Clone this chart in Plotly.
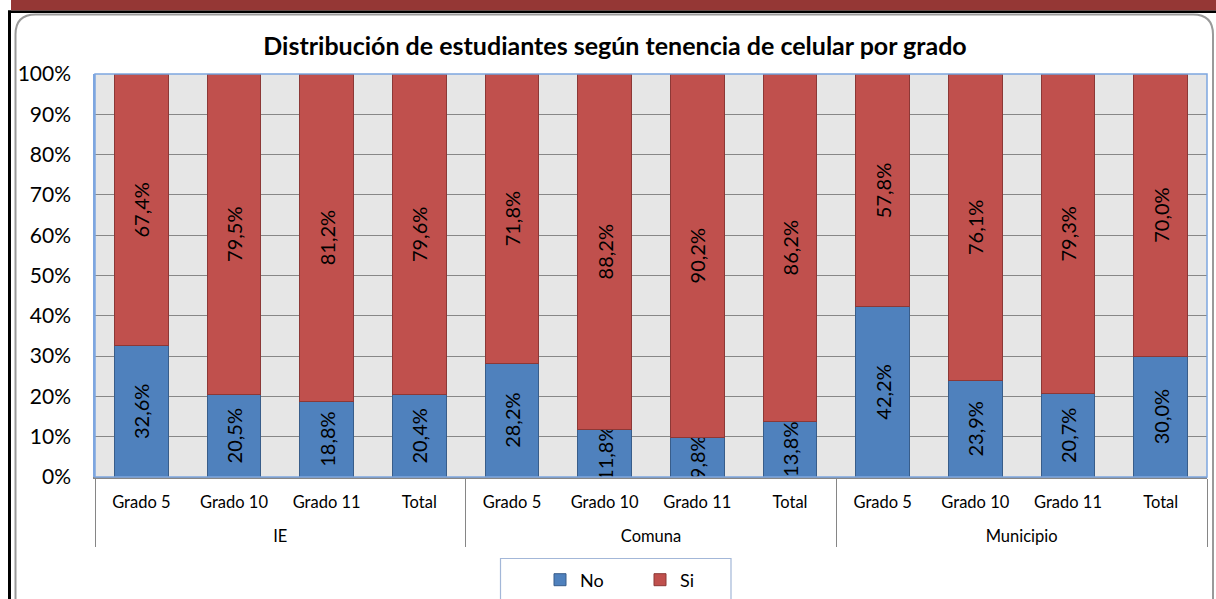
import plotly.graph_objects as go

# Data: share of students with / without a mobile phone, by grade and area
groups = ["IE", "Comuna", "Municipio"]
grades = ["Grado 5", "Grado 10", "Grado 11", "Total"]
no_vals = [32.6, 20.5, 18.8, 20.4,
           28.2, 11.8, 9.8, 13.8,
           42.2, 23.9, 20.7, 30.0]
si_vals = [67.4, 79.5, 81.2, 79.6,
           71.8, 88.2, 90.2, 86.2,
           57.8, 76.1, 79.3, 70.0]
y_ticks = [0, 10, 20, 30, 40, 50, 60, 70, 80, 90, 100]

# group labels carry a leading line break so they sit lower under the grades
x_group = ["<br>" + g for g in groups for _ in grades]
x_grade = [c for _ in groups for c in grades]

def pct_label(v):
    return f"{v:.1f}".replace(".", ",") + "%"

W, H = 1216, 599
ML, MR, MT, MB = 95, 9, 74, 122
PW, PH = W - ML - MR, H - MT - MB

def px(x):
    return (x - ML) / PW

def py(y):
    return (H - MB - y) / PH

FONT = "Lato"

fig = go.Figure()
fig.add_trace(go.Bar(
    x=[x_group, x_grade], y=no_vals, name="No",
    marker=dict(color="#4F81BD", line=dict(color="#385D8A", width=1)),
    text=[pct_label(v) for v in no_vals],
    textposition="inside", insidetextanchor="middle", textangle=-90,
    textfont=dict(family=FONT, size=20, color="black"),
    hoverinfo="skip",
))
fig.add_trace(go.Bar(
    x=[x_group, x_grade], y=si_vals, name="Si",
    marker=dict(color="#C0504D", line=dict(color="#8C3836", width=1)),
    text=[pct_label(v) for v in si_vals],
    textposition="inside", insidetextanchor="middle", textangle=-90,
    textfont=dict(family=FONT, size=20, color="black"),
    hoverinfo="skip",
))

shapes = []
# top band and dark borders of the page
shapes.append(dict(type="rect", xref="paper", yref="paper",
                   x0=px(11), x1=px(1220), y0=py(-5), y1=py(10.5),
                   fillcolor="#953735", line=dict(width=0), layer="above"))
shapes.append(dict(type="rect", xref="paper", yref="paper",
                   x0=px(8), x1=px(1220), y0=py(10.5), y1=py(13),
                   fillcolor="black", line=dict(width=0), layer="above"))
shapes.append(dict(type="rect", xref="paper", yref="paper",
                   x0=px(8), x1=px(11), y0=py(10.5), y1=py(620),
                   fillcolor="black", line=dict(width=0), layer="above"))
# rounded chart frame
r = 20
L, T, R, B = 15.5, 14.5, 1213, 640
path = (f"M {px(L)},{py(B)} L {px(L)},{py(T + r)} "
        f"Q {px(L)},{py(T)} {px(L + r)},{py(T)} "
        f"L {px(R - r)},{py(T)} Q {px(R)},{py(T)} {px(R)},{py(T + r)} "
        f"L {px(R)},{py(B)}")
shapes.append(dict(type="path", xref="paper", yref="paper", path=path,
                   line=dict(color="#9A9A9A", width=2), layer="above"))
# plot area border
shapes.append(dict(type="rect", xref="paper", yref="paper",
                   x0=0, x1=1, y0=0, y1=1,
                   line=dict(color="#7EA6E0", width=1.5), layer="above"))
# legend box
shapes.append(dict(type="rect", xref="paper", yref="paper",
                   x0=px(500.5), x1=px(731), y0=py(640), y1=py(558.5),
                   line=dict(color="#A3B7D8", width=1.2), fillcolor="white",
                   layer="below"))

fig.update_layout(
    width=W, height=H,
    margin=dict(l=ML, r=MR, t=MT, b=MB, autoexpand=False),
    paper_bgcolor="white",
    plot_bgcolor="#E6E6E6",
    barmode="stack",
    bargap=0.42,
    font=dict(family=FONT, color="black"),
    uniformtext=dict(minsize=20, mode="show"),
    title=dict(text="<b>Distribución de estudiantes según tenencia de celular por grado</b>",
               xref="container", x=615 / W, xanchor="center",
               y=1 - 46 / H, yanchor="middle",
               font=dict(family=FONT, size=25, color="black")),
    showlegend=True,
    legend=dict(orientation="h", x=px(540), xanchor="left",
                y=py(580), yanchor="middle",
                font=dict(family=FONT, size=18, color="black"),
                bgcolor="rgba(0,0,0,0)", borderwidth=0,
                entrywidth=55, entrywidthmode="pixels",
                traceorder="normal"),
    shapes=shapes,
)
fig.update_yaxes(
    range=[0, 100], tickvals=y_ticks,
    ticktext=[f"{v}%" for v in y_ticks],
    tickfont=dict(family=FONT, size=21, color="black"),
    showgrid=True, gridcolor="#878787", gridwidth=1,
    showline=True, linecolor="#7EA6E0", linewidth=1.5,
    zeroline=False, ticks="", ticklabelstandoff=18,
    automargin=False,
)
fig.update_xaxes(
    type="multicategory",
    tickfont=dict(family=FONT, size=16.5, color="black"),
    showline=True, linecolor="#868686", linewidth=2,
    showgrid=False, ticks="", ticklabelstandoff=9,
    showdividers=True, dividercolor="#868686", dividerwidth=1,
    automargin=False,
)

fig.write_html("out.html")
